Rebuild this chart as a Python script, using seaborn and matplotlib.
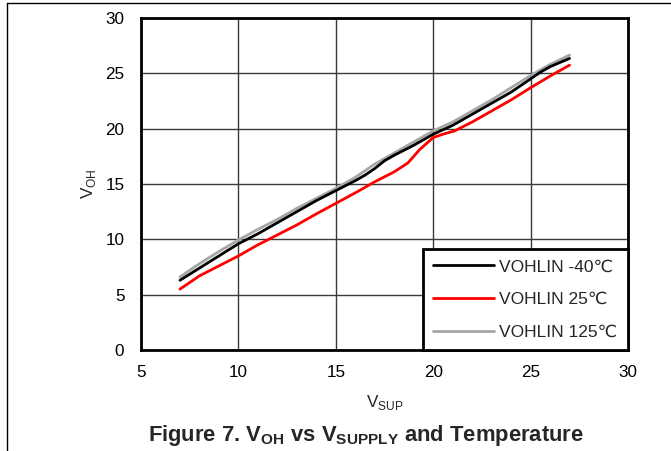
import numpy as np
import pandas as pd
import seaborn as sns
import matplotlib
matplotlib.use("Agg")
import matplotlib.pyplot as plt
from matplotlib.lines import Line2D

# ---- data ----
vsup_m40 = [7, 8, 9, 10, 11, 12, 13, 14, 15, 16, 16.5, 17, 17.5, 18, 19, 20, 21, 22, 23, 24, 25, 25.5, 26, 27]
voh_m40 = [6.3, 7.4, 8.5, 9.6, 10.5, 11.5, 12.5, 13.5, 14.4, 15.3, 15.8, 16.4, 17.1, 17.6, 18.5, 19.5, 20.3, 21.3, 22.3, 23.3, 24.5, 25.1, 25.6, 26.35]

vsup_25 = [7, 8, 9, 10, 11, 12, 13, 14, 15, 16, 17, 18, 18.7, 19.3, 20.0, 20.5, 21.1, 22, 23, 24, 25, 26, 27]
voh_25 = [5.5, 6.7, 7.6, 8.5, 9.5, 10.4, 11.3, 12.3, 13.25, 14.2, 15.2, 16.1, 16.9, 18.1, 19.2, 19.5, 19.8, 20.6, 21.6, 22.6, 23.7, 24.75, 25.74]

vsup_125 = [7, 8, 9, 10, 11, 12, 13, 14, 15, 16, 16.5, 17, 17.5, 18, 19, 20, 21, 22, 23, 24, 25, 26, 27]
voh_125 = [6.6, 7.8, 8.9, 9.94, 10.9, 11.8, 12.8, 13.7, 14.6, 15.6, 16.2, 16.8, 17.3, 17.8, 18.8, 19.8, 20.6, 21.6, 22.6, 23.7, 24.8, 25.8, 26.65]

labels = ["VOHLIN -40\u2103", "VOHLIN 25\u2103", "VOHLIN 125\u2103"]
colors = ["#000000", "#ff0000", "#a6a6a6"]

x_ticks = [5, 10, 15, 20, 25, 30]
y_ticks = [0, 5, 10, 15, 20, 25, 30]

df = pd.concat([
    pd.DataFrame({"VSUP": vsup_m40, "VOH": voh_m40, "series": labels[0]}),
    pd.DataFrame({"VSUP": vsup_25, "VOH": voh_25, "series": labels[1]}),
    pd.DataFrame({"VSUP": vsup_125, "VOH": voh_125, "series": labels[2]}),
], ignore_index=True)

sns.set_style("white")
plt.rcParams["font.family"] = ["Liberation Sans", "DejaVu Sans"]
plt.rcParams["mathtext.fontset"] = "custom"
plt.rcParams["mathtext.rm"] = "Liberation Sans"
plt.rcParams["mathtext.bf"] = "Liberation Sans:bold"

fig = plt.figure(figsize=(6.71, 4.51), dpi=100)
ax = fig.add_axes([141 / 671, 1 - 350 / 451, (628 - 141) / 671, (350 - 18) / 451])

# draw gray (125) first, then black, red on top
order = [labels[2], labels[0], labels[1]]
palette = dict(zip(labels, colors))
for lab in order:
    sub = df[df["series"] == lab]
    sns.lineplot(data=sub, x="VSUP", y="VOH", color=palette[lab], lw=2.0,
                 ax=ax, legend=False, sort=False, estimator=None)

ax.set_xlim(5, 30)
ax.set_ylim(0, 30)
ax.set_xticks(x_ticks)
ax.set_yticks(y_ticks)
ax.tick_params(axis="x", length=0, labelsize=12.3, pad=11, colors="black")
ax.tick_params(axis="y", length=0, labelsize=12.3, pad=12, colors="black")
ax.grid(True, color="#3a3a3a", lw=1.0)
ax.set_axisbelow(True)
for s in ax.spines.values():
    s.set_visible(True)
    s.set_color("black")
    s.set_linewidth(2.0)

ax.set_xlabel(r"V$_\mathregular{SUP}$", fontsize=12.3, labelpad=9)
ax.set_ylabel(r"V$_\mathregular{OH}$", fontsize=12.3, labelpad=5)

handles = [Line2D([0], [0], color=c, lw=2.0) for c in colors]
leg = ax.legend(handles, labels, loc="lower right", bbox_to_anchor=(1.0, 0.0),
                fontsize=12.5, frameon=True, fancybox=False, handlelength=3.5,
                handletextpad=0.3, labelspacing=1.0, borderpad=0.6,
                borderaxespad=0.0)
leg.get_frame().set_edgecolor("black")
leg.get_frame().set_linewidth(2.0)
leg.get_frame().set_alpha(1.0)

fig.text(366 / 671, 1 - 436 / 451, r"Figure 7. V$_\mathregular{OH}$ vs V$_\mathregular{SUPPLY}$ and Temperature",
         ha="center", va="center", fontsize=15.8, fontweight="bold")

# page frame lines (left and top)
fig.add_artist(Line2D([7 / 671, 7 / 671], [0, 1 - 3 / 451], color="black", lw=1.0, transform=fig.transFigure))
fig.add_artist(Line2D([7 / 671, 1], [1 - 3 / 451, 1 - 3 / 451], color="black", lw=1.0, transform=fig.transFigure))

fig.savefig("out.png", dpi=100)
